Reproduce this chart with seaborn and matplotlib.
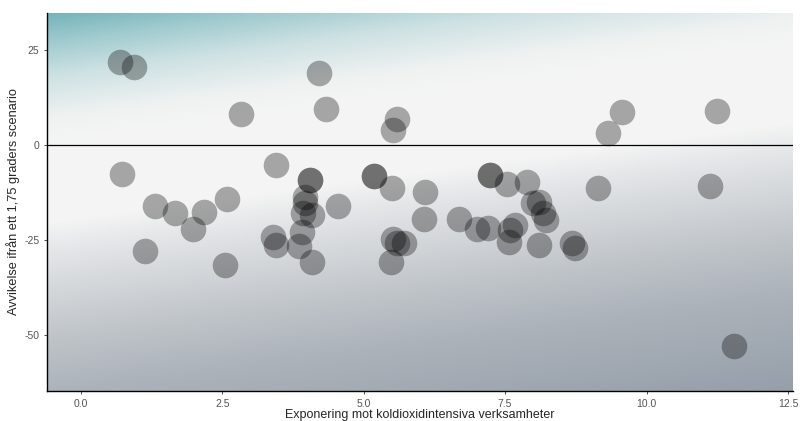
"""
Spridningsdiagram: avvikelse från 1,75-gradersscenariot mot exponering
mot koldioxidintensiva verksamheter.
"""

import numpy as np
import pandas as pd
import seaborn as sns
import matplotlib.pyplot as plt
from matplotlib.colors import LinearSegmentedColormap

# Data
exponering = [
    0.69, 0.94, 0.72, 1.31, 1.13, 1.66, 1.98, 2.17, 2.58, 2.55,
    2.83, 3.45, 3.39, 3.45, 4.21, 4.33, 4.05, 4.05, 3.96, 3.96,
    3.93, 4.08, 3.91, 3.85, 4.08, 4.54, 5.18, 5.18, 5.50, 5.52,
    5.59, 5.52, 5.59, 5.71, 5.48, 6.08, 6.06, 6.68, 7.00, 7.20,
    7.23, 7.23, 7.53, 7.88, 7.99, 8.10, 8.22, 8.17, 7.59, 7.67,
    7.57, 8.10, 8.68, 8.73, 9.14, 9.32, 9.57, 11.12, 11.24, 11.55,
]
avvikelse = [
    21.8, 20.5, -7.6, -16.1, -27.9, -17.9, -22.1, -17.6, -14.2, -31.6,
    8.2, -5.3, -24.2, -26.3, 18.9, 9.5, -9.2, -9.2, -13.7, -15.3,
    -17.9, -18.4, -22.9, -26.6, -30.8, -16.1, -8.2, -8.2, -11.3, 3.9,
    6.8, -24.7, -25.8, -25.8, -30.8, -12.4, -19.5, -19.5, -22.1, -21.8,
    -7.9, -7.9, -10.3, -9.7, -15.3, -15.0, -19.7, -17.9, -22.4, -21.1,
    -25.5, -26.3, -25.8, -27.1, -11.3, 3.2, 8.7, -10.8, 8.9, -52.9,
]

x_ticks = [0.0, 2.5, 5.0, 7.5, 10.0, 12.5]
y_ticks = [-50, -25, 0, 25]

df = pd.DataFrame({"x": exponering, "y": avvikelse})

sns.set_style("white")
plt.rcParams["font.family"] = ["Liberation Sans", "DejaVu Sans"]

fig = plt.figure(figsize=(8.01, 4.21), dpi=100)
ax = fig.add_axes([47 / 801, 30 / 421, 746 / 801, 378 / 421])

xlim = (-0.6, 12.59)
ylim = (-64.7, 34.7)

# Bakgrundsgradient (diagonal: turkos uppe till vänster, gråblå nere)
cmap = LinearSegmentedColormap.from_list("bg", [
    (0.00, (118 / 255, 180 / 255, 186 / 255)),
    (0.06, (160 / 255, 203 / 255, 207 / 255)),
    (0.13, (205 / 255, 225 / 255, 227 / 255)),
    (0.22, (240 / 255, 242 / 255, 242 / 255)),
    (0.28, (245 / 255, 245 / 255, 245 / 255)),
    (0.44, (244 / 255, 244 / 255, 244 / 255)),
    (0.50, (228 / 255, 230 / 255, 232 / 255)),
    (0.69, (190 / 255, 195 / 255, 200 / 255)),
    (0.80, (172 / 255, 178 / 255, 186 / 255)),
    (1.00, (150 / 255, 160 / 255, 170 / 255)),
])
# rad 0 = överkant av panelen
gx, gy = np.meshgrid(np.linspace(0, 1, 400), np.linspace(0, 1, 300))
d = (13 + 378 * gy) + 0.134 * (47 + 746 * gx)
t = (d - 19) / (497 - 19)
ax.imshow(t, cmap=cmap, vmin=0, vmax=1, extent=[xlim[0], xlim[1], ylim[0], ylim[1]],
          origin="upper", aspect="auto", zorder=0, interpolation="bilinear")

ax.axhline(0, color="black", lw=0.9, zorder=1)

sns.scatterplot(data=df, x="x", y="y", ax=ax, s=340, color="black",
                alpha=0.32, linewidth=0, zorder=2)

ax.set_xlim(*xlim)
ax.set_ylim(*ylim)
ax.set_xticks(x_ticks)
ax.set_xticklabels([f"{v:.1f}" for v in x_ticks])
ax.set_yticks(y_ticks)
ax.set_yticklabels([str(v) for v in y_ticks])
ax.tick_params(axis="both", labelsize=7.5, colors="#333333",
               length=2.5, width=0.6, pad=3, left=True, bottom=True)
for lab in ax.get_xticklabels() + ax.get_yticklabels():
    lab.set_color("#555555")

ax.set_xlabel("Exponering mot koldioxidintensiva verksamheter", fontsize=9, labelpad=0.5)
ax.set_ylabel("Avvikelse ifrån ett 1,75 graders scenario", fontsize=9.2, labelpad=3)

for s in ["top", "right"]:
    ax.spines[s].set_visible(False)
for s in ["left", "bottom"]:
    ax.spines[s].set_color("black")
    ax.spines[s].set_linewidth(1.0)

fig.savefig("out.png", dpi=100)
